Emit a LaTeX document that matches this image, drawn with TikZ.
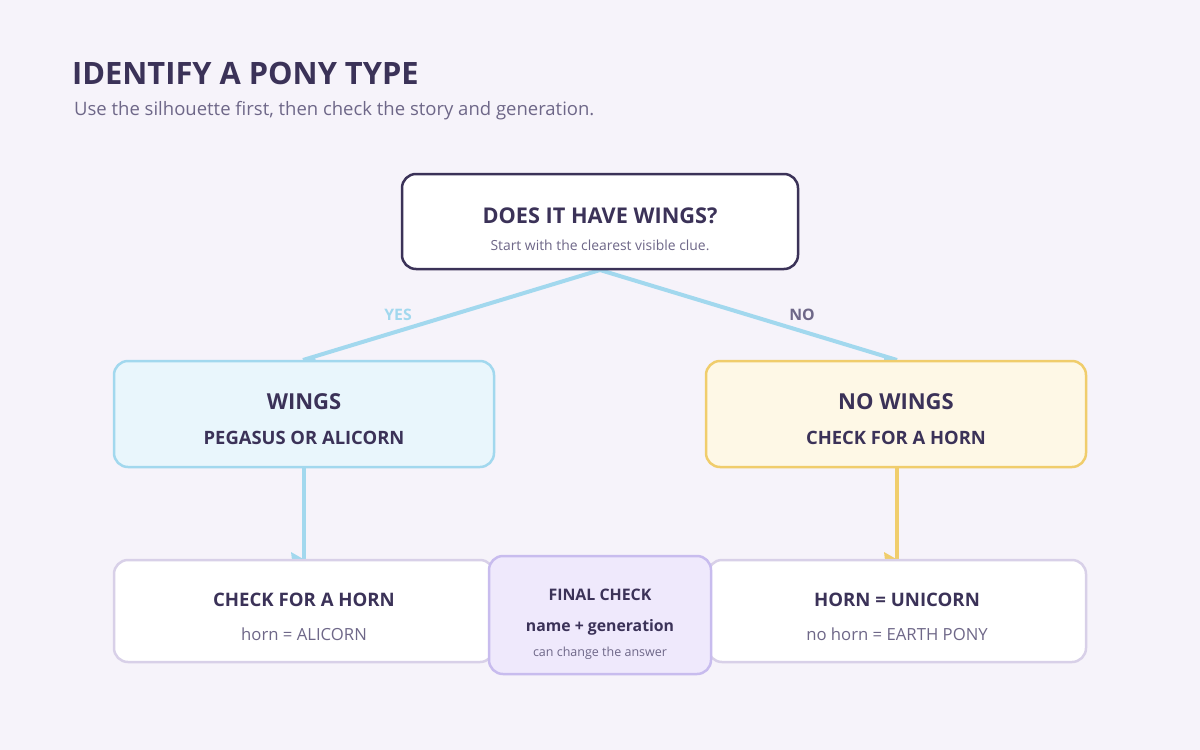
\documentclass[tikz,border=0pt]{standalone}
\usepackage{fontspec}
\setmainfont{Open Sans}
\definecolor{bg}{HTML}{F6F3FA}
\definecolor{ink}{HTML}{3B3258}
\definecolor{muted}{HTML}{6E6788}
\definecolor{sky}{HTML}{A2D8EE}
\definecolor{skyfill}{HTML}{E9F6FC}
\definecolor{gold}{HTML}{F0CD6C}
\definecolor{goldfill}{HTML}{FEF8E6}
\definecolor{lilac}{HTML}{D8D0E8}
\definecolor{violet}{HTML}{C8BCEE}
\definecolor{violetfill}{HTML}{EFE9FC}
\tikzset{
  box/.style={rounded corners=14pt, line width=2.5pt},
  conn/.style={line width=4pt},
  lbl/.style={font=\bfseries\fontsize{15.8}{18}\selectfont},
}
\begin{document}
\begin{tikzpicture}[x=1pt,y=-1pt]
\fill[bg] (0,0) rectangle (1200,750);
\useasboundingbox (0,0) rectangle (1200,750);
% title
\node[anchor=base west, inner sep=0, text=ink, font=\bfseries\fontsize{30.8}{36}\selectfont] (title) at (72,84) {IDENTIFY A PONY TYPE};
\node[anchor=base west, inner sep=0, text=muted, font=\fontsize{18.5}{22}\selectfont] (sub) at (74,115) {Use the silhouette first, then check the story and generation.};
% connectors (drawn first)
\coordinate (top) at (600,270);
\coordinate (lend) at (303,360);
\coordinate (rend) at (897,360);
\coordinate (lbs) at (304,466);
\coordinate (lbe) at (304,560);
\coordinate (rbs) at (897,466);
\coordinate (rbe) at (897,560);
\draw[conn, sky] (top) -- (lend);
\draw[conn, sky] (top) -- (rend);
\draw[conn, sky] (lbs) -- (lbe);
\draw[conn, gold] (rbs) -- (rbe);
\fill[sky] (291,552) -- (292,560) -- (305,560) -- cycle;
\fill[gold] (884,552) -- (885,560) -- (898,560) -- cycle;
\fill[sky] (302,361) -- (314,355) -- (316,361) -- cycle;
\fill[sky] (898,361) -- (884,354) -- (884,361) -- cycle;
% top box
\draw[box, draw=ink, fill=white] (402,174) rectangle (798,269);
\node[text=ink, font=\bfseries\fontsize{21.7}{26}\selectfont] (q) at (600,216) {DOES IT HAVE WINGS?};
\node[text=muted, font=\fontsize{13.9}{16}\selectfont] (qs) at (600,245) {Start with the clearest visible clue.};
% labels
\node[lbl, text=sky] (yes) at (398,315) {YES};
\node[lbl, text=muted] (no) at (802,315) {NO};
% level 2
\draw[box, draw=sky, fill=skyfill] (114,361) rectangle (494,467);
\node[text=ink, font=\bfseries\fontsize{22}{26}\selectfont] (w) at (304,402) {WINGS};
\node[text=ink, font=\bfseries\fontsize{18.4}{22}\selectfont] (ws) at (304,438) {PEGASUS OR ALICORN};
\draw[box, draw=gold, fill=goldfill] (706,361) rectangle (1086,467);
\node[text=ink, font=\bfseries\fontsize{22}{26}\selectfont] (nw) at (896,402) {NO WINGS};
\node[text=ink, font=\bfseries\fontsize{18.4}{22}\selectfont] (nws) at (896,438) {CHECK FOR A HORN};
% level 3
\draw[box, draw=lilac, fill=white] (114,560) rectangle (494,662);
\node[text=ink, font=\bfseries\fontsize{18.6}{22}\selectfont] (ch) at (304,600) {CHECK FOR A HORN};
\node[text=muted, font=\fontsize{16.7}{20}\selectfont] (chs) at (304,634) {horn = ALICORN};
\draw[box, draw=lilac, fill=white] (708,560) rectangle (1086,662);
\node[text=ink, font=\bfseries\fontsize{18.6}{22}\selectfont] (hu) at (897,600) {HORN = UNICORN};
\node[text=muted, font=\fontsize{16.7}{20}\selectfont] (hus) at (897,634) {no horn = EARTH PONY};
\draw[box, draw=violet, fill=violetfill] (489,556) rectangle (711,674);
\node[text=ink, font=\bfseries\fontsize{15.9}{18}\selectfont] (fc) at (600,595) {FINAL CHECK};
\node[text=ink, font=\bfseries\fontsize{15.8}{18}\selectfont] (fcs) at (600,627) {name + generation};
\node[text=muted, font=\fontsize{12.5}{14}\selectfont] (fct) at (600,653) {can change the answer};
\end{tikzpicture}
\end{document}
